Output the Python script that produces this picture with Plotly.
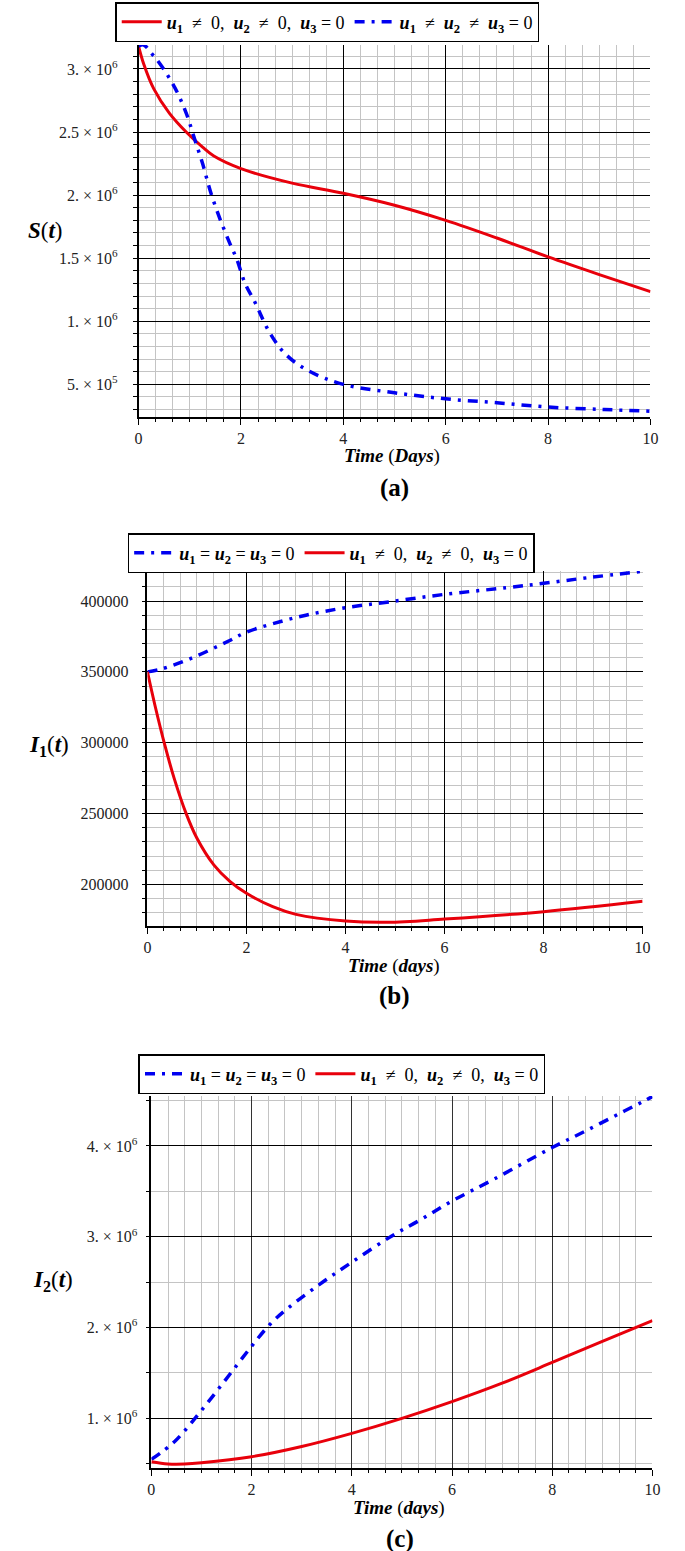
import plotly.graph_objects as go

# ---- data ----
days_ticks = [0, 2, 4, 6, 8, 10]

# panel (a): S(t)
t_s_ctrl = [0, 0.1, 0.3, 0.6, 0.93, 1.25, 1.47, 2.0, 3.0, 4.0, 5.0, 6.0, 7.0, 8.0, 9.0, 10]
s_ctrl = [3.18e6, 3.04e6, 2.84e6, 2.65e6, 2.5e6, 2.38e6, 2.31e6, 2.21e6, 2.095e6, 2.015e6,
          1.92e6, 1.80e6, 1.66e6, 1.51e6, 1.37e6, 1.235e6]
t_s_none = [0, 0.1, 0.26, 0.42, 0.71, 0.93, 1.09, 1.25, 1.41, 1.6, 1.79, 1.92, 2.08, 2.28,
            2.56, 2.88, 3.33, 4.0, 5.0, 6.0, 7.0, 8.0, 9.1, 10]
s_none = [3.18e6, 3.19e6, 3.12e6, 3.04e6, 2.85e6, 2.65e6, 2.45e6, 2.25e6, 2.02e6, 1.80e6,
          1.61e6, 1.49e6, 1.30e6, 1.145e6, 0.91e6, 0.735e6, 0.605e6, 0.50e6, 0.433e6,
          0.385e6, 0.354e6, 0.32e6, 0.30e6, 0.287e6]
s_ticks = [5e5, 1e6, 1.5e6, 2e6, 2.5e6, 3e6]
s_ticktext = ["5. × 10<sup>5</sup>", "1. × 10<sup>6</sup>", "1.5 × 10<sup>6</sup>",
              "2. × 10<sup>6</sup>", "2.5 × 10<sup>6</sup>", "3. × 10<sup>6</sup>"]

# panel (b): I1(t)
t_i1_none = [0, 0.28, 0.88, 1.64, 2.0, 2.53, 3.2, 4.0, 4.9, 6.0, 7.25, 8.0, 8.9, 10]
i1_none = [350000, 352000, 359500, 371800, 378000, 384000, 390000, 395300, 399500,
           404700, 409400, 412500, 416500, 421000]
t_i1_ctrl = [0, 0.15, 0.35, 0.54, 0.78, 1.0, 1.34, 1.67, 2.0, 2.53, 3.0, 4.0, 4.85, 6.0, 8.0, 10]
i1_ctrl = [350000, 326600, 298400, 274800, 250100, 232500, 213700, 201900, 193700,
           184200, 178800, 174100, 173200, 175500, 180700, 188000]
i1_ticks = [200000, 250000, 300000, 350000, 400000]

# panel (c): I2(t)
t_i2_none = [0, 0.46, 0.98, 1.48, 1.97, 2.36, 2.69, 3.35, 4.0, 4.79, 5.38, 6.0, 6.83, 8.0,
             8.67, 9.39, 9.85, 10]
i2_none = [0.548e6, 0.743e6, 1.074e6, 1.424e6, 1.773e6, 2.031e6, 2.197e6, 2.473e6, 2.719e6,
           3.006e6, 3.19e6, 3.393e6, 3.632e6, 3.982e6, 4.166e6, 4.37e6, 4.50e6, 4.545e6]
t_i2_ctrl = [0, 0.33, 0.66, 1.0, 2.0, 3.0, 4.0, 5.0, 6.0, 7.0, 8.0, 9.0, 10]
i2_ctrl = [0.522e6, 0.498e6, 0.497e6, 0.51e6, 0.577e6, 0.69e6, 0.835e6, 1.0e6, 1.184e6,
           1.387e6, 1.615e6, 1.847e6, 2.075e6]
i2_ticks = [1e6, 2e6, 3e6, 4e6]
i2_ticktext = ["1. × 10<sup>6</sup>", "2. × 10<sup>6</sup>", "3. × 10<sup>6</sup>", "4. × 10<sup>6</sup>"]

lbl_ctrl = ("<b><i>u</i></b><sub><b>1</b></sub>  ≠  0,  <b><i>u</i></b><sub><b>2</b></sub>  ≠  0,  "
            "<b><i>u</i></b><sub><b>3</b></sub> = 0")
lbl_neq = ("<b><i>u</i></b><sub><b>1</b></sub>  ≠  <b><i>u</i></b><sub><b>2</b></sub>  ≠  "
           "<b><i>u</i></b><sub><b>3</b></sub> = 0")
lbl_eq = ("<b><i>u</i></b><sub><b>1</b></sub> = <b><i>u</i></b><sub><b>2</b></sub> = "
          "<b><i>u</i></b><sub><b>3</b></sub> = 0")

W, H = 685, 1551
FONT = "Liberation Serif"
RED = "#e8000b"
BLUE = "#0000f0"
DASHDOT = "10px,7px,3px,7px"


def px_x(a, b):
    return [a / W, b / W]


def px_y(top, bottom):
    return [1 - bottom / H, 1 - top / H]


def red_line(x, y, name, xa, ya, legend):
    return go.Scatter(x=x, y=y, name=name, mode="lines", line=dict(color=RED, width=3, shape="spline"),
                      xaxis=xa, yaxis=ya, legend=legend)


def blue_line(x, y, name, xa, ya, legend):
    return go.Scatter(x=x, y=y, name=name, mode="lines",
                      line=dict(color=BLUE, width=3.5, dash=DASHDOT, shape="spline"),
                      xaxis=xa, yaxis=ya, legend=legend)


def x_axis(domain, anchor, major_grid="black"):
    return dict(
        domain=domain, anchor=anchor, range=[0, 10],
        tickmode="array", tickvals=days_ticks, ticktext=[str(v) for v in days_ticks],
        showgrid=True, gridcolor=major_grid, gridwidth=1,
        showline=True, linecolor="black", linewidth=1.5,
        ticks="outside", ticklen=6, tickcolor="black",
        minor=dict(tickmode="linear", tick0=0, dtick=1 / 3, ticks="outside", ticklen=3,
                   tickcolor="black", showgrid=True, gridcolor="#c4c4c4", gridwidth=1),
        zeroline=False, tickfont=dict(family=FONT, size=16, color="#222"),
    )


def y_axis(domain, anchor, rng, tickvals, ticktext, minor_dtick, standoff):
    return dict(
        domain=domain, anchor=anchor, range=rng,
        tickmode="array", tickvals=tickvals, ticktext=ticktext,
        showgrid=True, gridcolor="black", gridwidth=1,
        showline=True, linecolor="black", linewidth=1.5,
        ticks="outside", ticklen=4, tickcolor="black",
        minor=dict(tickmode="linear", tick0=0, dtick=minor_dtick, ticks="outside", ticklen=4,
                   tickcolor="black", showgrid=True, gridcolor="#c4c4c4", gridwidth=1),
        zeroline=False, ticklabelstandoff=standoff,
        tickfont=dict(family=FONT, size=16, color="#222"),
    )


fig = go.Figure()
fig.add_trace(red_line(t_s_ctrl, s_ctrl, lbl_ctrl, "x", "y", "legend"))
fig.add_trace(blue_line(t_s_none, s_none, lbl_neq, "x", "y", "legend"))
fig.add_trace(blue_line(t_i1_none, i1_none, lbl_eq, "x2", "y2", "legend2"))
fig.add_trace(red_line(t_i1_ctrl, i1_ctrl, lbl_ctrl, "x2", "y2", "legend2"))
fig.add_trace(blue_line(t_i2_none, i2_none, lbl_eq, "x3", "y3", "legend3"))
fig.add_trace(red_line(t_i2_ctrl, i2_ctrl, lbl_ctrl, "x3", "y3", "legend3"))


def legend_box(xc, ytop):
    return dict(
        orientation="h", x=xc / W, y=1 - ytop / H, xanchor="center", yanchor="top",
        xref="paper", yref="paper",
        bordercolor="black", borderwidth=1.5, bgcolor="white",
        font=dict(family=FONT, size=18, color="black"), itemwidth=40,
        tracegroupgap=0,
    )


def note(text, x, y, size):
    return dict(text=text, x=x / W, y=1 - y / H, xref="paper", yref="paper",
                showarrow=False, xanchor="center", yanchor="middle",
                font=dict(family=FONT, size=size, color="black"))


fig.update_layout(
    width=W, height=H,
    margin=dict(l=0, r=0, t=0, b=0),
    paper_bgcolor="white", plot_bgcolor="white",
    font=dict(family=FONT, color="black"),
    xaxis=x_axis(px_x(137, 658), "y"),
    yaxis=y_axis(px_y(45, 417), "x", [2.41e5, 3.19e6], s_ticks, s_ticktext, 1e5, 12),
    xaxis2=x_axis(px_x(146, 650), "y2"),
    yaxis2=y_axis(px_y(571, 926), "x2", [170600, 421200], i1_ticks,
                  [str(v) for v in i1_ticks], 10000, 10),
    xaxis3=x_axis(px_x(150, 660), "y3", major_grid="#333"),
    yaxis3=y_axis(px_y(1096, 1468), "x3", [0.453e6, 4.55e6], i2_ticks, i2_ticktext, 5e5, 5),
    legend=legend_box(329, 2),
    legend2=legend_box(333, 533),
    legend3=legend_box(344, 1054),
    annotations=[
        note("<b><i>S</i></b>(<b><i>t</i></b>)", 42, 230, 23),
        note("<b><i>Time</i></b> (<b><i>Days</i></b>)", 395, 456, 19),
        note("<b>(a)</b>", 397, 488, 25),
        note("<b><i>I</i><sub>1</sub></b>(<b><i>t</i></b>)", 46, 746, 23),
        note("<b><i>Time</i></b> (<b><i>days</i></b>)", 397, 966, 19),
        note("<b>(b)</b>", 397, 996, 25),
        note("<b><i>I</i><sub>2</sub></b>(<b><i>t</i></b>)", 50, 1281, 23),
        note("<b><i>Time</i></b> (<b><i>days</i></b>)", 402, 1508, 19),
        note("<b>(c)</b>", 403, 1539, 25),
    ],
)

# drop the default page margin so the figure sits at the window's corner
fig.write_html(
    "out.html",
    config={"responsive": False, "displayModeBar": False},
    post_script="document.body.style.margin='0';document.body.style.overflow='hidden';",
)
